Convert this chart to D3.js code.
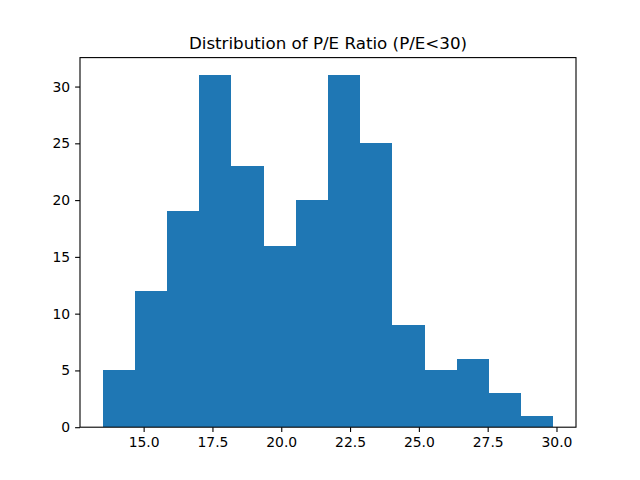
<!DOCTYPE html>
<html><head><meta charset="utf-8">
<script src="https://cdn.jsdelivr.net/npm/d3@7"></script>
<style>body{margin:0;background:#fff}svg{display:block}</style>
</head><body>
<script>
const title = "Distribution of P/E Ratio (P/E<30)";
const binMin = 13.507;
const binMax = 29.89;
const counts = [5,12,19,31,23,16,20,31,25,9,5,6,3,1];
const xTicks = [15.0,17.5,20.0,22.5,25.0,27.5,30.0];
const yTicks = [0,5,10,15,20,25,30];

const W=640,H=480, L=80, R=576, T=57.6, B=427.2;
const nb = counts.length;
const bw = (binMax-binMin)/nb;
const bins = counts.map((c,i)=>({x0:binMin+i*bw, x1:binMin+(i+1)*bw, c}));
const pad = (binMax-binMin)*0.05;
const x = d3.scaleLinear().domain([binMin-pad, binMax+pad]).range([L,R]);
const ymax = d3.max(counts)*1.05;
const y = d3.scaleLinear().domain([0,ymax]).range([B,T]);

const svg = d3.select("body").append("svg").attr("width",W).attr("height",H);
svg.append("g").selectAll("rect").data(bins).join("rect")
  .attr("x",d=>x(d.x0)).attr("width",d=>x(d.x1)-x(d.x0))
  .attr("y",d=>y(d.c)).attr("height",d=>y(0)-y(d.c))
  .attr("fill","#1f77b4").attr("shape-rendering","crispEdges");

const font = "DejaVu Sans, sans-serif";
const xa = svg.append("g").attr("transform",`translate(0,${B})`)
  .call(d3.axisBottom(x).tickValues(xTicks).tickFormat(d3.format(".1f")).tickSizeOuter(0).tickSize(4.9).tickPadding(4.9));
const ya = svg.append("g").attr("transform",`translate(${L},0)`)
  .call(d3.axisLeft(y).tickValues(yTicks).tickFormat(d3.format("d")).tickSizeOuter(0).tickSize(4.9).tickPadding(4.9));
[xa,ya].forEach(a=>{
  a.select(".domain").remove();
  a.selectAll("text").attr("font-family",font).attr("font-size","13.9px").attr("fill","#000");
  a.selectAll("line").attr("stroke","#000").attr("stroke-width",1.1);
});
svg.append("rect").attr("x",L).attr("y",T).attr("width",R-L).attr("height",B-T)
  .attr("fill","none").attr("stroke","#000").attr("stroke-width",1.1);
svg.append("text").attr("x",(L+R)/2).attr("y",T-8.5).attr("text-anchor","middle")
  .attr("font-family",font).attr("font-size","16.7px").attr("fill","#000").text(title);
</script>
</body></html>
